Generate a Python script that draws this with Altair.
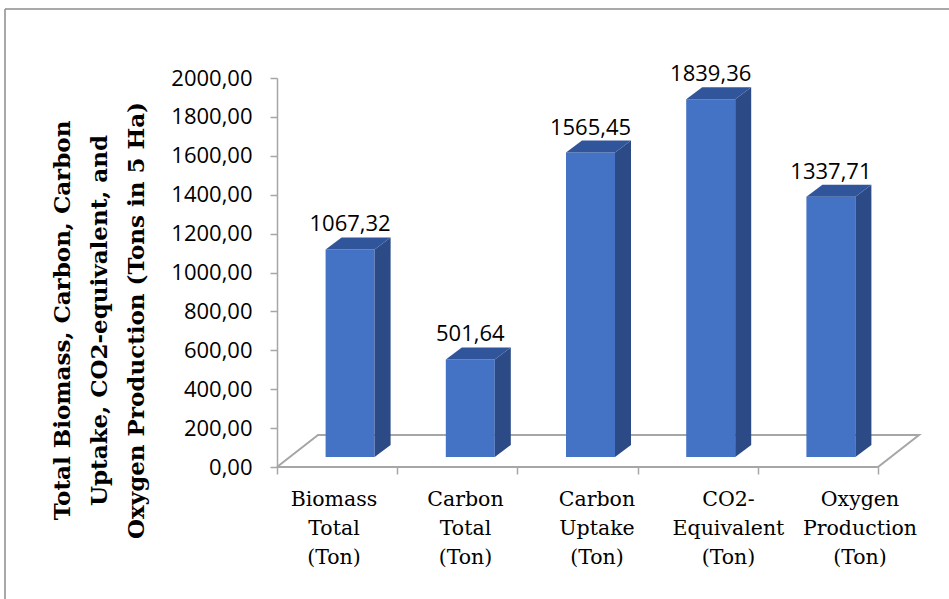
import altair as alt
import pandas as pd

# ---- data ----
categories = ["Biomass Total (Ton)", "Carbon Total (Ton)", "Carbon Uptake (Ton)",
              "CO2-Equivalent (Ton)", "Oxygen Production (Ton)"]
label_text = ["Biomass\nTotal\n (Ton)", " Carbon\nTotal\n(Ton)", "Carbon\nUptake\n(Ton)",
              "CO2-\nEquivalent\n(Ton)", "Oxygen\nProduction\n(Ton)"]
values = [1067.32, 501.64, 1565.45, 1839.36, 1337.71]
y_ticks = [0, 200, 400, 600, 800, 1000, 1200, 1400, 1600, 1800, 2000]
y_title = ["Total Biomass, Carbon, Carbon", "Uptake, CO2-equivalent, and",
           "Oxygen Production (Tons in 5 Ha)"]

# ---- 3D projection styling (pixels) ----
W, H = 643, 389
CAT_PX = 120.2                 # pixels per category on the floor's front edge
Y_MAX = 2000
YU = Y_MAX / H                 # data units per vertical pixel
n = len(categories)
x_min = -0.5
x_max = x_min + W / CAT_PX
FLOOR_DX, FLOOR_DY = 41 / CAT_PX, 32 * YU
BAR_L, BAR_R = -11.5 / CAT_PX, 37.5 / CAT_PX
BAR_BASE = 10 * YU
DEP_DX, DEP_DY = 16 / CAT_PX, 12 * YU

FRONT, SIDE, TOP = "#4472c4", "#2b4a86", "#30559b"
GRAY = "#a6a6a6"

bars = pd.DataFrame({"idx": list(range(n)), "category": categories,
                     "value": values, "label": label_text})
faces = pd.DataFrame({"idx": [i for i in range(n) for _ in (0, 1)],
                      "category": [c for c in categories for _ in (0, 1)],
                      "value": [v for v in values for _ in (0, 1)],
                      "k": [0, 1] * n})
floor = pd.DataFrame({
    "o": [0, 1, 2, 3, 4],
    "fx": [x_min, x_min + FLOOR_DX, x_min + n + FLOOR_DX, x_min + n, x_min],
    "fy": [0, FLOOR_DY, FLOOR_DY, 0, 0],
})

xs = alt.Scale(domain=[x_min, x_max], nice=False, zero=False)
ys = alt.Scale(domain=[0, Y_MAX], nice=False, zero=True)

x_axis = alt.Axis(
    values=[i - 0.5 for i in range(n + 1)], labels=False, domain=False,
    ticks=True, tickColor=GRAY, tickSize=7, tickWidth=1.5, grid=False, title=None)
y_axis = alt.Axis(
    values=y_ticks, tickCount=len(y_ticks), grid=False,
    labelOverlap=False, labelBound=False, labelFlush=False,
    labelExpr="replace(format(datum.value, '.2f'), '.', ',')",
    labelFont="Open Sans", labelFontSize=22, labelColor="black", labelPadding=18,
    tickColor=GRAY, tickSize=7, tickWidth=1.5,
    domainColor=GRAY, domainWidth=1.5,
    title=y_title, titleFont="DejaVu Serif", titleFontWeight="bold",
    titleFontSize=23, titleLineHeight=37, titleColor="black",
    titleAngle=270, titleAlign="center", titleBaseline="middle",
    titleX=-215, titleY=242)


def X(field):
    return alt.X(field, type="quantitative", scale=xs, axis=x_axis)


def Y(field):
    return alt.Y(field, type="quantitative", scale=ys, axis=y_axis)


floor_layer = alt.Chart(floor).mark_line(color=GRAY, strokeWidth=2).encode(
    x=X("fx"), y=Y("fy"), order="o:O",
)

front = alt.Chart(bars).transform_calculate(
    xl=f"datum.idx + {BAR_L}", xr=f"datum.idx + {BAR_R}",
    top=f"datum.value + {BAR_BASE}", base=f"{BAR_BASE}",
).mark_bar(color=FRONT).encode(
    x=X("xl"), x2="xr:Q", y=Y("top"), y2="base:Q",
)

side = alt.Chart(faces).transform_calculate(
    sx=f"datum.idx + {BAR_R} + datum.k * {DEP_DX}",
    sy=f"datum.value + {BAR_BASE} + datum.k * {DEP_DY}",
    sy2=f"{BAR_BASE} + datum.k * {DEP_DY}",
).mark_area(color=SIDE, orient="vertical").encode(
    x=X("sx"), y=Y("sy"), y2="sy2:Q", detail="category:N",
)

topf = alt.Chart(faces).transform_calculate(
    tx=f"datum.idx + {BAR_L} + datum.k * {DEP_DX}",
    tx2=f"datum.idx + {BAR_R} + datum.k * {DEP_DX}",
    ty=f"datum.value + {BAR_BASE} + datum.k * {DEP_DY}",
).mark_area(color=TOP, orient="horizontal").encode(
    y=Y("ty"), x=X("tx"), x2="tx2:Q", detail="category:N",
)

value_text = alt.Chart(bars).transform_calculate(
    cx=f"datum.idx + {(BAR_L + BAR_R) / 2}",
    top=f"datum.value + {BAR_BASE}",
    lab="replace(format(datum.value, '.2f'), '.', ',')",
).mark_text(font="Open Sans", fontSize=22, color="black", baseline="alphabetic",
            align="center", dy=-18).encode(
    x=X("cx"), y=Y("top"), text="lab:N",
)

cat_text = alt.Chart(bars).transform_calculate(
    lx="2.162 + (datum.idx - 2) * 1.094",
).mark_text(font="DejaVu Serif", fontSize=20.5, color="black", baseline="middle",
            align="center", lineBreak="\n", lineHeight=29).encode(
    x=X("lx"), y=alt.value(422), text="label:N",
)

frame_top = alt.Chart(alt.Data(values=[{}])).mark_rule(color="#8c8c8c", strokeWidth=1.5).encode(
    x=alt.value(-272), x2=alt.value(700), y=alt.value(-69))
frame_left = alt.Chart(alt.Data(values=[{}])).mark_rule(color="#8c8c8c", strokeWidth=1.5).encode(
    x=alt.value(-272), y=alt.value(-69), y2=alt.value(540))

chart = alt.layer(
    floor_layer, front, side, topf, value_text, cat_text, frame_top, frame_left
).properties(
    width=W, height=H,
    padding={"left": 277, "top": 78, "right": 29, "bottom": 132},
    autosize=alt.AutoSizeParams(type="none"),
    background="white",
).configure_view(stroke=None)

chart.save("out.html", embed_options={"renderer": "svg", "actions": False})
